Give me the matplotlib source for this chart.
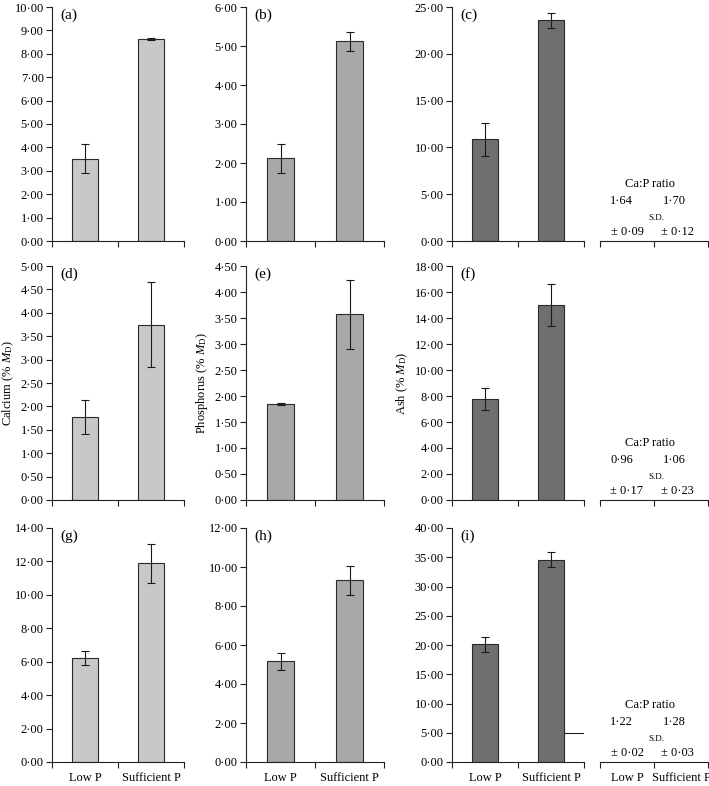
import matplotlib
matplotlib.use("Agg")
import matplotlib.pyplot as plt
import numpy as np
from matplotlib.ticker import FuncFormatter, MultipleLocator

plt.rcParams['font.family'] = ['Liberation Serif', 'DejaVu Serif']
plt.rcParams['mathtext.fontset'] = 'custom'
plt.rcParams['mathtext.rm'] = 'Liberation Serif'
plt.rcParams['mathtext.it'] = 'Liberation Serif:italic'

# ---------------- data ----------------
treatments = ["Low P", "Sufficient P"]
panel_letters = [["(a)", "(b)", "(c)"], ["(d)", "(e)", "(f)"], ["(g)", "(h)", "(i)"]]

calcium_mean = [[3.52, 8.63], [1.77, 3.75], [6.25, 11.88]]
calcium_sd = [[0.62, 0.04], [0.36, 0.91], [0.42, 1.17]]
phosphorus_mean = [[2.12, 5.12], [1.85, 3.57], [5.16, 9.31]]
phosphorus_sd = [[0.38, 0.24], [0.02, 0.66], [0.43, 0.74]]
ash_mean = [[10.85, 23.6], [7.76, 15.0], [20.1, 34.6]]
ash_sd = [[1.8, 0.8], [0.86, 1.65], [1.35, 1.3]]

calcium_ymax = [10, 5, 14]
calcium_step = [1, 0.5, 2]
phosphorus_ymax = [6, 4.5, 12]
phosphorus_step = [1, 0.5, 2]
ash_ymax = [25, 18, 40]
ash_step = [5, 2, 5]

ratio_mean = [[1.64, 1.70], [0.96, 1.06], [1.22, 1.28]]
ratio_sd = [[0.09, 0.12], [0.17, 0.23], [0.02, 0.03]]

artifact_line_y = 5.0   # stray horizontal segment in panel (i)

ylabels = ["Calcium (% $M_{\\mathrm{D}}$)", "Phosphorus (% $M_{\\mathrm{D}}$)", "Ash (% $M_{\\mathrm{D}}$)"]
colors = ["#c8c8c8", "#a8a8a8", "#6f6f6f"]

# ---------------- layout ----------------
W, H = 709, 786
fig = plt.figure(figsize=(W / 100, H / 100), dpi=100)

col_px = [(52, 184), (246, 384), (452, 584)]
table_px = (600, 708)
row_top_px = [7, 266, 528]
ax_h_px = 234

def frac(x0, x1, ytop):
    return [x0 / W, 1 - (ytop + ax_h_px) / H, (x1 - x0) / W, ax_h_px / H]

def dotfmt(v, pos):
    return f"{v:.2f}".replace(".", "\u00b7")

means = [calcium_mean, phosphorus_mean, ash_mean]
sds = [calcium_sd, phosphorus_sd, ash_sd]
ymaxs = [calcium_ymax, phosphorus_ymax, ash_ymax]
steps = [calcium_step, phosphorus_step, ash_step]

xpos = np.array([0.5, 1.5])
bar_w = 0.4
fs = 8.9

for r in range(3):
    for c in range(3):
        ax = fig.add_axes(frac(col_px[c][0], col_px[c][1], row_top_px[r]))
        m = means[c][r]
        s = sds[c][r]
        ax.bar(xpos, m, width=bar_w, color=colors[c], edgecolor="#2a2a2a",
               linewidth=0.8, zorder=2)
        ax.errorbar(xpos, m, yerr=s, fmt="none", ecolor="#1a1a1a",
                    elinewidth=0.8, capsize=3, capthick=0.8, zorder=3)
        ax.set_xlim(0, 2)
        ax.set_ylim(0, ymaxs[c][r])
        ax.yaxis.set_major_locator(MultipleLocator(steps[c][r]))
        ax.yaxis.set_major_formatter(FuncFormatter(dotfmt))
        ax.set_xticks([0, 1, 2])
        ax.set_xticklabels([])
        if r == 2:
            ax.set_xticks(xpos, minor=True)
            ax.set_xticklabels(treatments, minor=True, fontsize=fs)
            ax.tick_params(axis="x", which="minor", length=0, pad=7)
        for sp in ["top", "right"]:
            ax.spines[sp].set_visible(False)
        for sp in ["left", "bottom"]:
            ax.spines[sp].set_linewidth(0.8)
            ax.spines[sp].set_color("#222222")
        ax.tick_params(axis="both", which="major", direction="out", length=4,
                       width=0.8, labelsize=fs, pad=2, color="#222222")
        ax.text(0.06, 0.965, panel_letters[r][c], transform=ax.transAxes,
                fontsize=11, va="center", ha="left")
        if r == 1:
            ax.set_ylabel(ylabels[c], fontsize=9, labelpad=3)
        if r == 2 and c == 2:
            ax.hlines(artifact_line_y, xpos[1] + bar_w / 2, 2, color="#222222",
                      linewidth=0.8, zorder=1)

    # Ca:P ratio table
    tx = fig.add_axes(frac(table_px[0], table_px[1], row_top_px[r]))
    tx.set_xlim(0, 2)
    tx.set_ylim(0, 1)
    for sp in ["top", "right", "left"]:
        tx.spines[sp].set_visible(False)
    tx.spines["bottom"].set_linewidth(0.8)
    tx.spines["bottom"].set_color("#222222")
    tx.set_yticks([])
    tx.set_xticks([0, 1, 2])
    tx.set_xticklabels([])
    tx.tick_params(axis="x", which="major", direction="out", length=4,
                   width=0.8, color="#222222")
    if r == 2:
        tx.set_xticks(xpos, minor=True)
        tx.set_xticklabels(treatments, minor=True, fontsize=fs)
        tx.tick_params(axis="x", which="minor", length=0, pad=7)
    tx.text(0.46, 0.245, "Ca:P ratio", transform=tx.transAxes, ha="center",
            va="center", fontsize=9)
    tx.text(0.20, 0.172, dotfmt(ratio_mean[r][0], 0), transform=tx.transAxes,
            ha="center", va="center", fontsize=fs)
    tx.text(0.69, 0.172, dotfmt(ratio_mean[r][1], 0), transform=tx.transAxes,
            ha="center", va="center", fontsize=fs)
    tx.text(0.52, 0.100, "S.D.", transform=tx.transAxes, ha="center",
            va="center", fontsize=6.5)
    tx.text(0.25, 0.04, "\u00b1 " + dotfmt(ratio_sd[r][0], 0), transform=tx.transAxes,
            ha="center", va="center", fontsize=fs)
    tx.text(0.72, 0.04, "\u00b1 " + dotfmt(ratio_sd[r][1], 0), transform=tx.transAxes,
            ha="center", va="center", fontsize=fs)

fig.savefig("out.png", dpi=100)
